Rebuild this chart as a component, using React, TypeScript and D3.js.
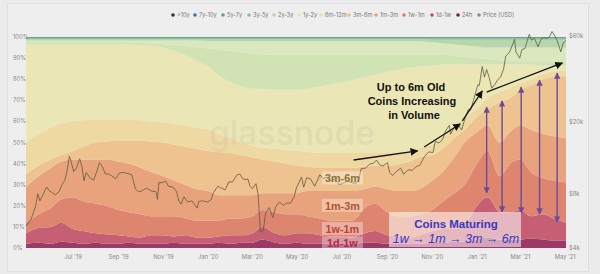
import React from "react";
import * as d3 from "d3";

const W = 600;
const H = 274;

// ---------- data ----------
const dates = [
  "2019-04-28","2019-05-15","2019-06-01","2019-06-15","2019-07-01","2019-07-15","2019-08-01","2019-08-15",
  "2019-09-01","2019-09-15","2019-10-01","2019-10-15","2019-11-01","2019-11-15","2019-12-01","2019-12-15",
  "2020-01-01","2020-01-15","2020-02-01","2020-02-15","2020-03-01","2020-03-15","2020-04-01","2020-04-15",
  "2020-05-01","2020-05-15","2020-06-01","2020-06-15","2020-07-01","2020-07-15","2020-08-01","2020-08-15",
  "2020-09-01","2020-09-15","2020-10-01","2020-10-15","2020-11-01","2020-11-15","2020-12-01","2020-12-15",
  "2021-01-01","2021-01-15","2021-02-01","2021-02-15","2021-03-01","2021-03-15","2021-04-01","2021-04-15",
  "2021-05-02",
];

// cumulative upper edge (%) of each age band, bottom to top
const top24h = [2,2.5,2,3,2.5,2,2.5,2,2,2.5,2,2,2,2.5,2,2,2,2.5,2,2.5,2.5,4,2.5,2,2.5,2,2,2,2,2,2.5,2.5,2,2,2,2,2.5,2.5,3,3,4,5,4,4,4,4.5,4,3.5,3.5];
const top1d1w = [7,9.5,10,12,9,8,7,6.5,6,5.5,5,6,6,5.5,6,5,5,5.5,6,6,7,10,7,6,7,7,6,5.5,5.5,5,7,8,6,5.5,5,6,8,9,9,11,20,24,17,17,18,15,16,14,12];
const top1w1m = [12,16,19,23,24,22,21,20,18,17,16,15,15,15,14,13,13,13,14,14,15,18,17,16,16,15,14,13,13,13,19,21,17,15,15,16,18,22,26,30,40,46,34,40,42,36,33,32,31];
const top1m3m = [29,34,38,41,42,42,42,42,41,40,38,36,34,32,30,28,27,25,25,25,25,26,26,26,26,27,27,27,27,27,28,29,28,27,27,28,32,36,43,50,55,58,50,55,58,56,54,53,52];
const top3m6m = [35,39,42,44,46,48,50,50.5,51,51,51,50.5,50,49,48,47,46,45.5,45,44,43,42,41,40,39,38.5,38,38,38,38,38.5,39,39,39.5,41,43,44,47,52,56,62,66,69,71,75,77,80,81,81];
const top6m12m = [50,54,57,59,60,60.5,61,61,61,61,60.5,60,59.5,59,58,57,56,54,52,50,48.5,47.5,47,46.5,46,45.5,45,45,45,45,45,45,45,45.5,46,47.5,49,53,58,62,66,71,74,76,78,80,82.5,83.5,84];
const top1y2y = [96.5,96.5,96.5,96.5,96.5,96.5,96.5,96.5,96.5,96.5,96.3,96,95,93.5,91.5,89,86,82,78.5,76.5,75.5,75.5,75,75,75,75.5,76.5,77.5,78.5,79.5,81,82,83.5,84.5,85.5,86,86.5,87,87,87,87,87,87,87,87,87,86.5,86.5,86.5];
const top2y3y = [97.5,97.5,97.5,97.5,97.5,97.5,97.5,97.5,97.5,97.3,97.1,96.9,96.6,96.2,95.7,95.2,94.6,94,93.2,92.6,92,91.7,91.5,91.5,91.5,91.5,91.5,91.5,91.5,91.5,91.5,91.5,91.5,91.5,91.5,91.5,91.5,91.5,91,90.5,90,89.5,89,88.5,88.5,88.5,88.5,88.5,88.5];
const top3y5y = [98.3,98.3,98.3,98.3,98.3,98.3,98.3,98.3,98.3,98.3,98.3,98.3,98.3,98.3,98.3,98.3,98,98,98,98,98,98,98,98,98,98,98,98,98,98,98,98,98,98,98,98,97.5,97,96.5,96,95.5,95,95,95,95,95,95,95,95];
const top5y7y = [99,99,99,99,99,99,99,99,99,99,99,99,99,99,99,99,99,99,99,99,99,99,99,99,99,99,99,99,99,99,99,99,99,99,99,99,98.7,98.7,98.7,98.7,98.7,98.7,98.7,98.7,98.7,98.7,98.7,98.7,98.7];
const top7y10y = dates.map(() => 99.5);
const top10y = dates.map(() => 100);

const bandNames = ["24h","1d-1w","1w-1m","1m-3m","3m-6m","6m-12m","1y-2y","2y-3y","3y-5y","5y-7y","7y-10y",">10y"];
const bandColors = ["#9a3b67","#c65f74","#de8570","#e9a37c","#efc38f","#efd9a3","#ebe6b5","#d1e2b4","#dbe8bf","#b8d6ab","#8fc19f","#6aa38f"];
const bandTops = [top24h,top1d1w,top1w1m,top1m3m,top3m6m,top6m12m,top1y2y,top2y3y,top3y5y,top5y7y,top7y10y,top10y];

// BTC price (USD)
const priceDates = [
  "2019-04-28","2019-05-05","2019-05-11","2019-05-14","2019-05-17","2019-05-21","2019-05-26","2019-05-30","2019-06-03","2019-06-07",
  "2019-06-12","2019-06-16","2019-06-20","2019-06-23","2019-06-26","2019-06-28","2019-07-02","2019-07-06","2019-07-10","2019-07-13",
  "2019-07-16","2019-07-19","2019-07-24","2019-07-29","2019-08-03","2019-08-06","2019-08-10","2019-08-14","2019-08-18","2019-08-22",
  "2019-08-28","2019-09-02","2019-09-07","2019-09-14","2019-09-19","2019-09-24","2019-09-28","2019-10-03","2019-10-09","2019-10-15",
  "2019-10-22","2019-10-24","2019-10-26","2019-10-30","2019-11-04","2019-11-08","2019-11-14","2019-11-19","2019-11-22","2019-11-25",
  "2019-11-29","2019-12-04","2019-12-10","2019-12-17","2019-12-19","2019-12-24","2019-12-31","2020-01-05","2020-01-08","2020-01-14",
  "2020-01-19","2020-01-24","2020-01-29","2020-02-03","2020-02-09","2020-02-13","2020-02-17","2020-02-20","2020-02-24","2020-02-27",
  "2020-03-01","2020-03-06","2020-03-09","2020-03-12","2020-03-16","2020-03-19","2020-03-24","2020-03-29","2020-04-02","2020-04-07",
  "2020-04-12","2020-04-17","2020-04-22","2020-04-27","2020-04-30","2020-05-07","2020-05-10","2020-05-14","2020-05-19","2020-05-25",
  "2020-06-01","2020-06-05","2020-06-10","2020-06-15","2020-06-22","2020-06-27","2020-07-02","2020-07-08","2020-07-15","2020-07-20",
  "2020-07-24","2020-07-27","2020-08-02","2020-08-08","2020-08-13","2020-08-17","2020-08-21","2020-08-26","2020-09-01","2020-09-04",
  "2020-09-08","2020-09-14","2020-09-19","2020-09-23","2020-09-29","2020-10-05","2020-10-10","2020-10-15","2020-10-21","2020-10-27",
  "2020-11-02","2020-11-05","2020-11-10","2020-11-15","2020-11-19","2020-11-24","2020-11-26","2020-12-01","2020-12-07","2020-12-11",
  "2020-12-16","2020-12-20","2020-12-23","2020-12-27","2021-01-02","2021-01-04","2021-01-08","2021-01-11","2021-01-14","2021-01-17",
  "2021-01-21","2021-01-25","2021-01-29","2021-02-02","2021-02-06","2021-02-09","2021-02-14","2021-02-17","2021-02-21","2021-02-23",
  "2021-02-28","2021-03-03","2021-03-07","2021-03-10","2021-03-13","2021-03-16","2021-03-20","2021-03-25","2021-03-29","2021-04-02",
  "2021-04-06","2021-04-10","2021-04-13","2021-04-17","2021-04-20","2021-04-25","2021-04-28","2021-05-02",
];
const priceValues = [
  5300,5800,6800,8000,7300,7900,8700,8300,8100,7900,
  8200,9000,9500,10800,12900,12200,10600,11200,12500,11400,
  9450,10500,9800,9500,10800,11900,11300,10300,10300,10100,
  9700,10400,10500,10350,10200,8500,8200,8300,8600,8300,
  8200,7450,9250,9200,9400,8800,8700,8200,7300,7000,
  7700,7200,7300,6650,7250,7300,7200,7400,8100,8800,
  8600,8400,9300,9300,10150,10300,9700,9600,9650,8800,
  8550,9100,7900,4900,5000,6200,6700,5900,6800,7200,
  6900,7100,7100,7700,8600,9900,8700,9800,9700,8800,
  10200,9700,9900,9400,9650,9000,9100,9400,9200,9150,
  9550,11000,11100,11700,11800,12300,11600,11400,11900,10500,
  10100,10700,11100,10250,10850,10800,11300,11500,12800,13650,
  13550,15600,15300,15950,17800,19150,17100,18800,19150,18050,
  21300,23500,23250,26300,32200,31900,40600,35500,39100,35800,
  30800,32300,34300,35500,39200,46400,48700,52100,57500,48800,
  45200,50500,51000,56000,61200,56900,58300,52300,57600,59000,
  58000,59800,63500,60000,56500,49000,54900,56600,
];

const pctTicks = [0,10,20,30,40,50,60,70,80,90,100];
const priceTicks = [4000, 8000, 20000, 60000];
const monthTicks = ["2019-07-01","2019-09-01","2019-11-01","2020-01-01","2020-03-01","2020-05-01","2020-07-01","2020-09-01","2020-11-01","2021-01-01","2021-03-01","2021-05-01"];

const legendItems = [">10y","7y-10y","5y-7y","3y-5y","2y-3y","1y-2y","6m-12m","3m-6m","1m-3m","1w-1m","1d-1w","24h","Price [USD]"];
const legendColors = ["#2c2f45","#3f6fa6","#5c9f8a","#86c196","#b7d9a4","#e6e8ae","#efe0a0","#efc07e","#eba173","#df7a60","#c04a5c","#7a1f3d","#8a8a8a"];

// annotation anchors in data space: [date, percent]
const trendArrows: [string, number, string, number][] = [
  ["2020-07-17", 41.7, "2020-10-12", 46],
  ["2020-10-21", 47.9, "2020-12-09", 58.8],
  ["2020-12-12", 60.2, "2021-01-08", 74.4],
  ["2021-01-14", 73.9, "2021-04-27", 87.7],
];
const maturingArrows: [string, number, number][] = [
  ["2021-01-14", 66.8, 26.1],
  ["2021-02-04", 69.7, 17.1],
  ["2021-03-02", 76.3, 16.6],
  ["2021-03-27", 79.6, 16.1],
  ["2021-04-20", 82.9, 12.3],
];

const bandLabels = [
  { text: "3m-6m", color: "#8a7433", pct: 33 },
  { text: "1m-3m", color: "#b0542f", pct: 20 },
  { text: "1w-1m", color: "#c2403a", pct: 9 },
  { text: "1d-1w", color: "#ad2a45", pct: 2.2 },
];
const bandLabelDate = "2020-07-01";

// ---------- layout ----------
const parse = d3.utcParse("%Y-%m-%d");
const L = 26, R = 566, T = 37, B = 248;
const x = d3.scaleUtc().domain([parse("2019-04-28")!, parse("2021-05-02")!]).range([L, R]);
const y = d3.scaleLinear().domain([0, 100]).range([B, T]);
const yp = d3.scaleLog().domain([4000, 60000]).range([B, 36]);

const fmtMonth = d3.utcFormat("%b '%y");
const fmtPrice = (v: number) => "$" + d3.format("d")(v / 1000) + "k";

export default function App() {
  const dd = dates.map((s) => parse(s)!);
  const layers = bandTops.map((tops, i) => {
    const lower = i === 0 ? null : bandTops[i - 1];
    const area = d3
      .area<number>()
      .x((_, j) => x(dd[j]))
      .y0((_, j) => y(lower ? lower[j] : 0))
      .y1((v) => y(v))
      .curve(d3.curveMonotoneX);
    return { name: bandNames[i], color: bandColors[i], d: area(tops) || "" };
  });

  const pd = priceDates.map((s) => parse(s)!);
  const priceLine = d3
    .line<number>()
    .x((_, j) => x(pd[j]))
    .y((v) => yp(v))(priceValues) || "";

  const font = "Inter, 'Noto Sans', sans-serif";
  const bold = "'Liberation Sans', Arial, sans-serif";
  const lx = x(parse(bandLabelDate)!);

  return (
    <svg width={W} height={H} style={{ position: "absolute", left: 0, top: 0, display: "block" }} fontFamily={font}>
      <defs>
        <marker id="ah" viewBox="0 0 10 10" refX="9" refY="5" markerWidth="6" markerHeight="6" orient="auto">
          <path d="M0,0 L10,5 L0,10 z" fill="#111" />
        </marker>
        <marker id="ph" viewBox="0 0 10 10" refX="9" refY="5" markerWidth="4.5" markerHeight="4.5" orient="auto-start-reverse">
          <path d="M0,0 L10,5 L0,10 z" fill="#6b4a9c" />
        </marker>
      </defs>
      <rect x={0} y={0} width={W} height={H} fill="#ebebeb" />
      <rect x={7.5} y={3.5} width={581} height={268} fill="#eeeeee" stroke="#e0e0e0" />

      {/* legend */}
      {(() => {
        let cx = 173;
        const gaps = [22, 28, 26, 25, 25, 22, 28, 27, 28, 28, 26, 21, 0];
        return legendItems.map((t, i) => {
          const g = (
            <g key={t}>
              <circle cx={cx} cy={15} r={1.8} fill={legendColors[i]} />
              <text x={cx + 4} y={17} fontSize={5.6} fill="#777">{t}</text>
            </g>
          );
          cx += gaps[i];
          return g;
        });
      })()}

      {/* bands */}
      {layers.map((l) => (
        <path key={l.name} d={l.d} fill={l.color} />
      ))}

      {/* watermark */}
      <text x={292} y={145} fontSize={34} fontFamily={font} fontWeight={500} textLength={166} lengthAdjust="spacingAndGlyphs"
        textAnchor="middle" fill="#b9b7a0" fillOpacity={0.22}>glassnode</text>

      {/* price */}
      <path d={priceLine} fill="none" stroke="#5d5a42" strokeWidth={0.8} strokeLinejoin="round" />

      {/* band labels */}
      {bandLabels.map((b) => (
        <g key={b.text}>
          <rect x={lx - 20} y={y(b.pct) - 7} width={41} height={13} fill="#ffffff" fillOpacity={0.35} />
          <text x={lx + 0.5} y={y(b.pct) + 3.8} fontSize={10.8} fontWeight={700} fontFamily={bold} textAnchor="middle" fill={b.color}>{b.text}</text>
        </g>
      ))}

      {/* trend arrows */}
      {trendArrows.map((a, i) => (
        <line key={i} x1={x(parse(a[0])!)} y1={y(a[1])} x2={x(parse(a[2])!)} y2={y(a[3])}
          stroke="#111" strokeWidth={1.3} markerEnd="url(#ah)" />
      ))}
      <g fontFamily={bold} fontWeight={700} fontSize={11} fill="#111" textAnchor="middle">
        <text x={411} y={91}>Up to 6m Old</text>
        <text x={412} y={105}>Coins Increasing</text>
        <text x={414} y={118.5}>in Volume</text>
      </g>

      {/* maturing arrows */}
      {maturingArrows.map((a, i) => {
        const ax = x(parse(a[0])!);
        return (
          <line key={i} x1={ax} y1={y(a[2])} x2={ax} y2={y(a[1])} stroke="#6b4a9c" strokeWidth={1.4}
            markerStart="url(#ph)" markerEnd="url(#ph)" />
        );
      })}

      {/* coins maturing box */}
      <rect x={389} y={212} width={132} height={35} fill="#ffffff" fillOpacity={0.55} />
      <text x={456} y={228} fontFamily={bold} fontWeight={700} fontSize={11.5} fill="#3a36c0" textAnchor="middle">Coins Maturing</text>
      <text x={456} y={243} fontFamily={bold} fontStyle="italic" fontSize={12.5} fill="#3a36c0" textAnchor="middle">1w → 1m → 3m → 6m</text>

      {/* left axis */}
      {pctTicks.map((p) => (
        <text key={p} x={13} y={y(p) + 2} fontSize={5.8} fill="#888">{p}%</text>
      ))}
      {/* right axis */}
      {priceTicks.map((p) => (
        <text key={p} x={569} y={yp(p) + 2} fontSize={5.8} fill="#888">{fmtPrice(p)}</text>
      ))}
      {/* bottom axis */}
      {monthTicks.map((m) => (
        <text key={m} x={x(parse(m)!)} y={259} fontSize={5.8} fill="#888" textAnchor="middle">{fmtMonth(parse(m)!)}</text>
      ))}
    </svg>
  );
}
